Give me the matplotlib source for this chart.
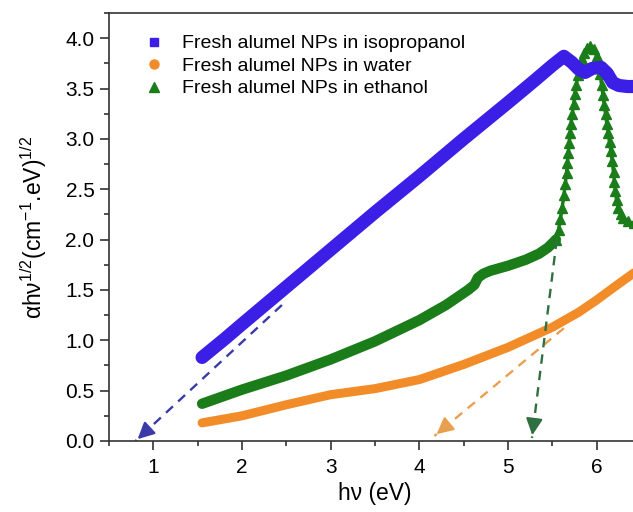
import numpy as np
import matplotlib
matplotlib.use("Agg")
import matplotlib.pyplot as plt
from matplotlib.lines import Line2D
from matplotlib.ticker import MultipleLocator

plt.rcParams['font.family'] = ['Liberation Sans', 'DejaVu Sans']
plt.rcParams['mathtext.default'] = 'regular'

# isopropanol (blue squares)
iso_x = [1.55, 1.8, 2.0, 2.5, 3.0, 3.5, 4.0, 4.5, 5.0, 5.3, 5.5, 5.63, 5.72,
         5.80, 5.87, 5.95, 6.05, 6.12, 6.18, 6.25, 6.35, 6.5]
iso_y = [0.83, 1.01, 1.16, 1.53, 1.90, 2.27, 2.63, 3.00, 3.36, 3.58, 3.73, 3.82, 3.76,
         3.69, 3.66, 3.70, 3.71, 3.65, 3.56, 3.53, 3.52, 3.52]

# water (orange circles)
wat_x = [1.55, 2.0, 2.5, 3.0, 3.5, 4.0, 4.5, 5.0, 5.5, 5.8, 6.0, 6.2, 6.5]
wat_y = [0.18, 0.25, 0.36, 0.46, 0.52, 0.61, 0.76, 0.93, 1.13, 1.28, 1.40, 1.53, 1.72]

# ethanol (green triangles), smooth part
eth_x = [1.55, 2.0, 2.5, 3.0, 3.5, 4.0, 4.3, 4.55, 4.62, 4.66, 4.72, 4.8,
         5.0, 5.2, 5.35, 5.45, 5.52, 5.54]
eth_y = [0.37, 0.51, 0.65, 0.81, 0.99, 1.20, 1.35, 1.50, 1.55, 1.62, 1.66, 1.69,
         1.74, 1.80, 1.86, 1.92, 1.98, 2.00]

# ethanol, sharp peak (single triangles visible)
pk_x = [5.54, 5.57, 5.59, 5.61, 5.63, 5.645, 5.66, 5.67, 5.68, 5.69, 5.70, 5.71,
        5.725, 5.74, 5.755, 5.77, 5.79, 5.81, 5.835, 5.86, 5.89, 5.93,
        5.97, 6.00, 6.02, 6.04, 6.055, 6.07, 6.085, 6.10, 6.115, 6.13, 6.145,
        6.16, 6.175, 6.19, 6.20, 6.21, 6.225, 6.245, 6.27, 6.30, 6.35, 6.42, 6.5]
pk_y = [2.00, 2.10, 2.20, 2.31, 2.44, 2.55, 2.66, 2.76, 2.86, 2.96, 3.06, 3.15,
        3.25, 3.35, 3.45, 3.54, 3.63, 3.71, 3.79, 3.85, 3.90, 3.92,
        3.89, 3.82, 3.74, 3.64, 3.54, 3.44, 3.34, 3.25, 3.15, 3.06, 2.97,
        2.88, 2.78, 2.67, 2.57, 2.48, 2.39, 2.31, 2.25, 2.21, 2.18, 2.16, 2.15]

# extrapolation arrows: (start, end)
arrows = [((2.45, 1.35), (0.80, 0.0), '#3a3aa8'),
          ((5.63, 1.12), (4.17, 0.05), '#e8a050'),
          ((5.55, 2.00), (5.27, 0.03), '#2f7040')]

labels = ['Fresh alumel NPs in isopropanol', 'Fresh alumel NPs in water',
          'Fresh alumel NPs in ethanol']

c_blue = '#3b1fe6'
c_orange = '#f28c28'
c_green = '#1a7d1a'

fig = plt.figure(figsize=(6.33, 5.12), dpi=100)
ax = fig.add_axes([109 / 633, 71 / 512, 532 / 633, 428 / 512])

ax.plot(wat_x, wat_y, color=c_orange, lw=6.5, solid_capstyle='round')
ax.plot(eth_x, eth_y, color=c_green, lw=7.5, solid_capstyle='round')
ax.plot(pk_x, pk_y, color=c_green, lw=2.5)
ax.plot(pk_x, pk_y, '^', color=c_green, ms=7, mec=c_green)
ax.plot(iso_x, iso_y, color=c_blue, lw=9.5, solid_capstyle='round')

for (x0, y0), (x1, y1), col in arrows:
    ax.plot([x0, x1], [y0, y1], ls=(0, (4, 3)), color=col, lw=1.7)
    dx, dy = x1 - x0, y1 - y0
    f = 0.06 / np.hypot(dx, dy * 0.9)
    ax.annotate('', xy=(x1, y1), xytext=(x1 - dx * f * 2, y1 - dy * f * 2),
                arrowprops=dict(arrowstyle='-|>,head_length=1.0,head_width=0.5',
                                color=col, lw=1.6))

ax.set_xlim(0.5, 6.5)
ax.set_ylim(0, 4.25)
ax.xaxis.set_major_locator(MultipleLocator(1))
ax.xaxis.set_minor_locator(MultipleLocator(0.5))
ax.yaxis.set_major_locator(MultipleLocator(0.5))
ax.yaxis.set_minor_locator(MultipleLocator(0.25))
ax.tick_params(which='major', length=6.5, width=1.2, labelsize=15, pad=4, color='#333333')
ax.tick_params(which='minor', length=3.5, width=1.2, color='#333333')
ax.tick_params(axis='x', pad=5.5)
for s in ['left', 'bottom', 'top']:
    ax.spines[s].set_linewidth(1.2)
    ax.spines[s].set_color('#333333')
ax.spines['right'].set_visible(False)

ax.set_xlabel('hν (eV)', fontsize=16.5, labelpad=4)
ax.set_ylabel('αhν$^{1/2}$(cm$^{-1}$.eV)$^{1/2}$', fontsize=16.5)
ax.yaxis.set_label_coords(-0.112, 0.5)

handles = [Line2D([], [], ls='none', marker='s', color=c_blue, ms=6),
           Line2D([], [], ls='none', marker='o', color=c_orange, ms=6.5),
           Line2D([], [], ls='none', marker='^', color=c_green, ms=7)]
ax.legend(handles, labels, loc='upper left', bbox_to_anchor=(0.034, 0.99),
          frameon=False, fontsize=14, handlelength=1.0, handletextpad=0.9,
          labelspacing=0.25)

fig.savefig('out.png', dpi=100)
